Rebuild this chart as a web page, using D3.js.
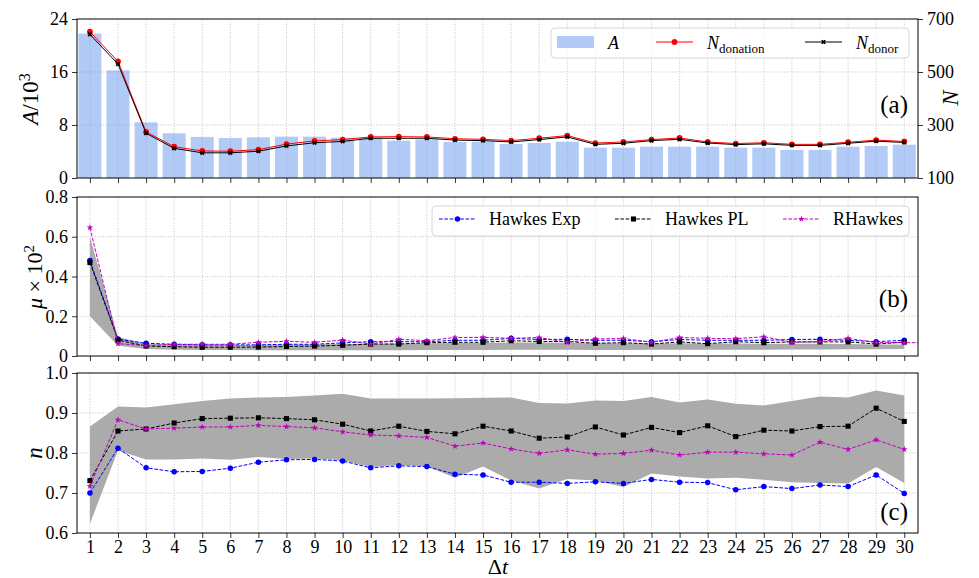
<!DOCTYPE html>
<html>
<head>
<meta charset="utf-8">
<script src="https://cdn.jsdelivr.net/npm/d3@7"></script>
<style>
  body { margin: 0; background: #fff; }
  svg text { font-family: "Liberation Serif", "Times New Roman", Times, "DejaVu Serif", serif !important; fill: #000; }
</style>
</head>
<body>
<script>
// x categories
const dt = [1,2,3,4,5,6,7,8,9,10,11,12,13,14,15,16,17,18,19,20,21,22,23,24,25,26,27,28,29,30];

// panel (a): A in thousands (bars), N on right axis
const A = [21.8,16.25,8.4,6.75,6.2,6.04,6.14,6.24,6.24,6.08,6.1,5.64,5.83,5.43,5.48,5.13,5.28,5.48,4.58,4.58,4.73,4.73,4.73,4.58,4.58,4.23,4.23,4.73,4.83,5.03];
const Ndonation = [652,540,274,218,202,201,207,228,240,245,255,256,255,248,246,241,250,260,232,236,245,251,236,230,233,227,227,235,243,238];
const Ndonor = [642,530,269,212,195,195,201,221,233,238,250,250,250,243,241,236,245,255,227,231,241,246,232,226,229,223,223,231,239,234];

// panel (b): mu x 10^2
const muExp = [0.48,0.085,0.064,0.059,0.056,0.056,0.056,0.059,0.059,0.066,0.072,0.072,0.072,0.079,0.079,0.089,0.083,0.084,0.079,0.079,0.072,0.083,0.079,0.079,0.079,0.083,0.084,0.079,0.072,0.079];
const muPL = [0.47,0.08,0.05,0.047,0.044,0.044,0.045,0.048,0.05,0.054,0.06,0.06,0.067,0.069,0.069,0.077,0.073,0.073,0.064,0.067,0.06,0.071,0.062,0.072,0.067,0.071,0.071,0.071,0.06,0.07];
const muR = [0.646,0.062,0.052,0.059,0.059,0.059,0.069,0.074,0.069,0.08,0.06,0.084,0.077,0.093,0.094,0.089,0.093,0.069,0.086,0.088,0.069,0.093,0.089,0.087,0.097,0.069,0.072,0.089,0.067,0.067];
const muRtail = 0.067; // RHawkes line runs on past the last point
const muLo = [0.20,0.052,0.035,0.032,0.030,0.030,0.029,0.029,0.029,0.029,0.029,0.029,0.030,0.030,0.030,0.031,0.031,0.031,0.030,0.030,0.031,0.031,0.032,0.032,0.032,0.033,0.033,0.034,0.034,0.035];
const muHi = [0.60,0.095,0.060,0.057,0.055,0.055,0.056,0.058,0.059,0.060,0.062,0.063,0.064,0.065,0.066,0.068,0.068,0.067,0.064,0.064,0.063,0.064,0.063,0.063,0.062,0.062,0.062,0.061,0.058,0.058];

// panel (c): branching ratio n
const nExp = [0.700,0.812,0.763,0.753,0.754,0.762,0.777,0.783,0.784,0.780,0.763,0.768,0.766,0.747,0.745,0.727,0.727,0.724,0.728,0.724,0.734,0.727,0.726,0.708,0.716,0.711,0.720,0.716,0.745,0.699];
const nPL = [0.731,0.855,0.860,0.875,0.886,0.887,0.888,0.886,0.883,0.872,0.855,0.867,0.854,0.848,0.867,0.855,0.837,0.840,0.865,0.845,0.864,0.851,0.868,0.841,0.857,0.855,0.866,0.867,0.912,0.879];
const nR = [0.717,0.883,0.860,0.862,0.865,0.865,0.869,0.866,0.863,0.853,0.845,0.843,0.839,0.817,0.825,0.810,0.799,0.808,0.797,0.799,0.807,0.795,0.802,0.802,0.798,0.795,0.827,0.809,0.833,0.809];
const nLo = [0.623,0.806,0.784,0.784,0.786,0.783,0.790,0.785,0.786,0.782,0.765,0.770,0.767,0.738,0.766,0.731,0.711,0.735,0.731,0.715,0.749,0.741,0.736,0.738,0.733,0.727,0.725,0.724,0.765,0.725];
const nHi = [0.866,0.916,0.914,0.922,0.930,0.936,0.939,0.940,0.944,0.948,0.936,0.936,0.936,0.937,0.938,0.939,0.925,0.924,0.931,0.930,0.940,0.926,0.934,0.923,0.919,0.930,0.941,0.939,0.956,0.944];

// tick values
const ticksA = [0, 8, 16, 24];
const ticksN = [100, 300, 500, 700];
const ticksMu = [0, 0.2, 0.4, 0.6, 0.8];
const ticksNc = [0.6, 0.7, 0.8, 0.9, 1.0];

const width = 979, height = 578;
const left = 77, right = 918;
const gridColor = "#b8b8b8";
const bandColor = "#ababab";
const magenta = "#bf00bf";
const fs = "18px";
const serif = "Liberation Serif, Times New Roman, Times, DejaVu Serif, serif";

const svg = d3.select("body").append("svg")
    .attr("width", width)
    .attr("height", height)
    .attr("font-family", serif);

const x = d3.scaleLinear().domain([0.54, 30.49]).range([left, right]);

// shared panel helper: grid, clip, returns group
function panel(name, top, bottom, yScale, yTicks, fmt) {
    const g = svg.append("g").attr("class", "panel-" + name);
    g.append("clipPath").attr("id", "clip-" + name)
      .append("rect")
        .attr("x", left).attr("y", top)
        .attr("width", right - left).attr("height", bottom - top);

    // dotted grid
    g.selectAll(".vgrid").data(dt).enter().append("line")
        .attr("x1", d => x(d)).attr("x2", d => x(d))
        .attr("y1", top).attr("y2", bottom)
        .attr("stroke", gridColor).attr("stroke-width", 0.8)
        .attr("stroke-dasharray", "1,1.6");
    g.selectAll(".hgrid").data(yTicks.slice(1, -1)).enter().append("line")
        .attr("x1", left).attr("x2", right)
        .attr("y1", d => yScale(d)).attr("y2", d => yScale(d))
        .attr("stroke", gridColor).attr("stroke-width", 0.8)
        .attr("stroke-dasharray", "1,1.6");

    const body = g.append("g").attr("clip-path", "url(#clip-" + name + ")");
    return { g, body, top, bottom, yScale, yTicks, fmt };
}

function styleAxis(a) {
    a.attr("font-family", serif).attr("font-size", 18);
    a.select(".domain").remove();
    a.selectAll("text").style("font-size", fs);
    a.selectAll("line").attr("stroke", "#000").attr("stroke-width", 0.8);
}

function axes(p, showX) {
    const { g, top, bottom, yScale, yTicks, fmt } = p;
    const ax = g.append("g")
        .attr("transform", "translate(0," + bottom + ")")
        .call(d3.axisBottom(x).tickValues(dt).tickSize(5).tickPadding(2)
              .tickFormat(showX ? d3.format("d") : ""));
    const ay = g.append("g")
        .attr("transform", "translate(" + left + ",0)")
        .call(d3.axisLeft(yScale).tickValues(yTicks).tickSize(5).tickPadding(4).tickFormat(fmt));
    styleAxis(ax);
    styleAxis(ay);
    g.append("rect")
        .attr("x", left).attr("y", top)
        .attr("width", right - left).attr("height", bottom - top)
        .attr("fill", "none").attr("stroke", "#000").attr("stroke-width", 1);
}

const symbols = { circle: d3.symbolCircle, square: d3.symbolSquare, star: d3.symbolStar, cross: d3.symbolCross };

function markers(body, vals, yScale, kind, color, size) {
    body.selectAll(null).data(vals).enter().append("path")
        .attr("d", d3.symbol().type(symbols[kind]).size(size))
        .attr("transform", (d, i) => "translate(" + x(dt[i]) + "," + yScale(d) + ")" + (kind === "cross" ? " rotate(45)" : ""))
        .attr("fill", color);
}

function band(body, lo, hi, yScale) {
    const area = d3.area()
        .x((d, i) => x(dt[i]))
        .y0((d, i) => yScale(lo[i]))
        .y1((d, i) => yScale(hi[i]));
    body.append("path").datum(lo).attr("fill", bandColor).attr("d", area);
}

function series(body, vals, yScale, color, dashed, kind, size, tail) {
    const pts = vals.map((v, i) => [dt[i], v]);
    if (tail !== undefined) pts.push([dt[dt.length - 1] + 1, tail]);
    const line = d3.line().x(d => x(d[0])).y(d => yScale(d[1]));
    body.append("path")
        .datum(pts)
        .attr("fill", "none")
        .attr("stroke", color)
        .attr("stroke-width", 1)
        .attr("stroke-dasharray", dashed ? "3.7,1.6" : null)
        .attr("d", line);
    markers(body, vals, yScale, kind, color, size);
}

function panelLabel(txt, y) {
    svg.append("text").attr("x", 908).attr("y", y)
        .attr("text-anchor", "end").style("font-size", "25px").text(txt);
}

// ---------- panel (a) ----------
const yA = d3.scaleLinear().domain([0, 24]).range([178, 19]);
const yN = d3.scaleLinear().domain([100, 700]).range([178, 19]);
const pa = panel("a", 19, 178, yA, ticksA, d3.format("d"));

const bw = x(0.82) - x(0);
pa.body.selectAll(".bar").data(A).enter().append("rect")
    .attr("x", (d, i) => x(dt[i]) - bw / 2)
    .attr("width", bw)
    .attr("y", d => yA(d))
    .attr("height", d => yA(0) - yA(d))
    .attr("fill", "#6495ed").attr("fill-opacity", 0.5);

series(pa.body, Ndonation, yN, "#ff0000", false, "circle", 26);
series(pa.body, Ndonor, yN, "#000000", false, "cross", 14);
axes(pa, false);

const ar = pa.g.append("g")
    .attr("transform", "translate(" + right + ",0)")
    .call(d3.axisRight(yN).tickValues(ticksN).tickSize(5).tickPadding(4));
styleAxis(ar);

// ---------- panel (b) ----------
const yMu = d3.scaleLinear().domain([0, 0.8]).range([356, 197]);
const pb = panel("b", 197, 356, yMu, ticksMu, d => d === 0 ? "0" : d3.format(".1f")(d));
band(pb.body, muLo, muHi, yMu);
series(pb.body, muExp, yMu, "#0000ff", true, "circle", 24);
series(pb.body, muPL, yMu, "#000000", true, "square", 26);
series(pb.body, muR, yMu, magenta, true, "star", 14, muRtail);
axes(pb, false);

// ---------- panel (c) ----------
const yNc = d3.scaleLinear().domain([0.6, 1.0]).range([533, 373]);
const pc = panel("c", 373, 533, yNc, ticksNc, d3.format(".1f"));
band(pc.body, nLo, nHi, yNc);
series(pc.body, nExp, yNc, "#0000ff", true, "circle", 24);
series(pc.body, nPL, yNc, "#000000", true, "square", 26);
series(pc.body, nR, yNc, magenta, true, "star", 14);
axes(pc, true);

// panel tags
panelLabel("(a)", 113);
panelLabel("(b)", 307);
panelLabel("(c)", 520);

// axis titles
const yl1 = svg.append("text").attr("transform", "translate(38,99) rotate(-90)")
    .attr("text-anchor", "middle").style("font-size", "23px");
yl1.append("tspan").style("font-style", "italic").text("A");
yl1.append("tspan").text("/10");
yl1.append("tspan").attr("dy", -8).style("font-size", "16px").text("3");

svg.append("text").attr("transform", "translate(958,98) rotate(-90)")
    .attr("text-anchor", "middle").style("font-size", "23px")
    .style("font-style", "italic").text("N");

const yl2 = svg.append("text").attr("transform", "translate(42,277) rotate(-90)")
    .attr("text-anchor", "middle").style("font-size", "22px");
yl2.append("tspan").style("font-style", "italic").text("μ");
yl2.append("tspan").text(" × 10");
yl2.append("tspan").attr("dy", -8).style("font-size", "15px").text("2");

svg.append("text").attr("transform", "translate(42,453) rotate(-90)")
    .attr("text-anchor", "middle").style("font-size", "23px")
    .style("font-style", "italic").text("n");

const xl = svg.append("text").attr("x", 498).attr("y", 574)
    .attr("text-anchor", "middle").style("font-size", "22px");
xl.append("tspan").text("Δ");
xl.append("tspan").style("font-style", "italic").text("t");

// ---------- legends ----------
function legendBox(x0, y0, x1, y1) {
    svg.append("rect").attr("x", x0).attr("y", y0)
        .attr("width", x1 - x0).attr("height", y1 - y0)
        .attr("rx", 4)
        .attr("fill", "#fff").attr("fill-opacity", 0.8)
        .attr("stroke", "#d6d6d6").attr("stroke-width", 1);
}
function legendLine(x0, y, color, dashed, kind, size) {
    svg.append("line").attr("x1", x0).attr("x2", x0 + 37).attr("y1", y).attr("y2", y)
        .attr("stroke", color).attr("stroke-width", 1)
        .attr("stroke-dasharray", dashed ? "3.7,1.6" : null);
    svg.append("path").attr("d", d3.symbol().type(symbols[kind]).size(size))
        .attr("transform", "translate(" + (x0 + 18.5) + "," + y + ")" + (kind === "cross" ? " rotate(45)" : ""))
        .attr("fill", color);
}

// legend (a)
legendBox(551, 28, 909, 58);
svg.append("rect").attr("x", 557).attr("y", 36).attr("width", 37).attr("height", 12)
    .attr("fill", "#6495ed").attr("fill-opacity", 0.5);
svg.append("text").attr("x", 608).attr("y", 49).style("font-size", fs)
    .style("font-style", "italic").text("A");
legendLine(656, 42, "#ff0000", false, "circle", 26);
const ld = svg.append("text").attr("x", 707).attr("y", 49).style("font-size", fs);
ld.append("tspan").style("font-style", "italic").text("N");
ld.append("tspan").attr("dy", 4).style("font-size", "13px").text("donation");
legendLine(805, 42, "#000000", false, "cross", 14);
const ln = svg.append("text").attr("x", 856).attr("y", 49).style("font-size", fs);
ln.append("tspan").style("font-style", "italic").text("N");
ln.append("tspan").attr("dy", 4).style("font-size", "13px").text("donor");

// legend (b)
legendBox(432, 206, 909, 236);
legendLine(439, 219, "#0000ff", true, "circle", 24);
svg.append("text").attr("x", 489).attr("y", 225).style("font-size", fs).text("Hawkes Exp");
legendLine(615, 219, "#000000", true, "square", 26);
svg.append("text").attr("x", 665).attr("y", 225).style("font-size", fs).text("Hawkes PL");
legendLine(783, 219, magenta, true, "star", 14);
svg.append("text").attr("x", 833).attr("y", 225).style("font-size", fs).text("RHawkes");
</script>
</body>
</html>
